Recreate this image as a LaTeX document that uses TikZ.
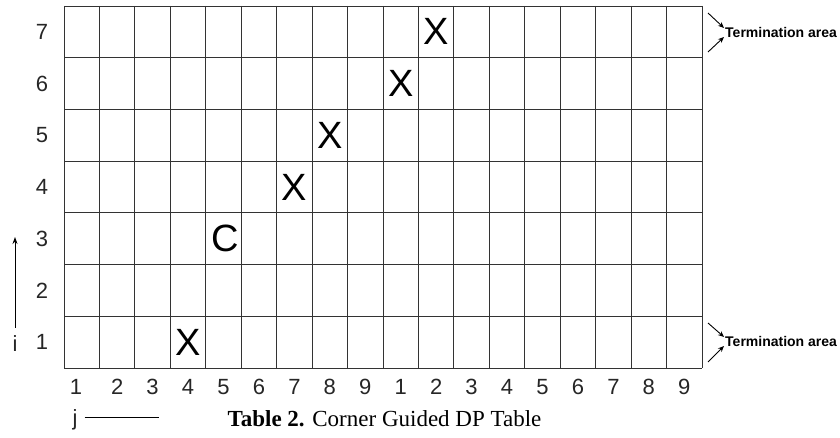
\documentclass[tikz,border=0pt]{standalone}
\usepackage{fontspec}
\setmainfont{Liberation Sans}
\newfontfamily\capfont{Liberation Serif}
\usetikzlibrary{arrows.meta}
\begin{document}
\begin{tikzpicture}[x=1pt,y=-1pt,
  gridline/.style={draw=black!80, line width=0.9pt},
  lab/.style={font=\fontsize{22}{22}\selectfont, inner sep=0pt, text=black!85},
  cellmark/.style={font=\fontsize{38}{38}\selectfont, inner sep=0pt},
  term/.style={font=\bfseries\fontsize{14}{14}\selectfont, inner sep=0pt, anchor=west},
  tarrow/.style={-{Stealth[length=6pt,width=5pt]}, line width=0.9pt}]
\useasboundingbox (0,0) rectangle (840,438);
\fill[white] (0,0) rectangle (840,438);
% grid
\foreach \k in {0,...,18} \draw[gridline] ({64+\k*35.444},6) -- ({64+\k*35.444},368);
\foreach \k in {0,...,7} \draw[gridline] (64,{6+\k*51.714}) -- (702,{6+\k*51.714});
% row labels
\foreach \r in {1,...,7} \node[lab] (rl\r) at (42,{368-(\r-0.5)*51.714}) {\r};
% column labels
\node[lab] (cl1) at (76,387) {1};
\foreach \c [count=\k from 2] in {2,3,4,5,6,7,8,9,1,2,3,4,5,6,7,8,9}
  \node[lab] (cl\k) at ({64+(\k-0.5)*35.444},387) {\c};
% marks
\foreach \c/\r/\t in {11/7/X,10/6/X,8/5/X,7/4/X,4/1/X}
  \node[cellmark] (m\c-\r) at ({64+(\c-0.5)*35.444},{368-(\r-0.5)*51.714}) {\t};
\node[cellmark] (m5-3) at ({64+4.5*35.444+2},{368-2.5*51.714}) {C};
% termination areas
\node[term] (ta1) at (725,32) {Termination area};
\node[term] (ta2) at (725,341) {Termination area};
\coordinate (ta1a) at (708,13);
\coordinate (ta1b) at (708,52);
\coordinate (ta2a) at (708,323);
\coordinate (ta2b) at (708,362);
\draw[tarrow] (ta1a) -- ([shift={(-1,-4)}]ta1.west);
\draw[tarrow] (ta1b) -- ([shift={(-1,5)}]ta1.west);
\draw[tarrow] (ta2a) -- ([shift={(-1,-4)}]ta2.west);
\draw[tarrow] (ta2b) -- ([shift={(-1,5)}]ta2.west);
% i axis
\node[lab] (ilab) at (15,344) {i};
\coordinate (itop) at (15,237);
\draw[-{Stealth[length=7pt,width=5pt]}, line width=0.9pt] ([yshift=8pt]ilab.north) -- (itop);
% j axis
\node[lab] (jlab) at (75,420) {j};
\coordinate (jend) at (159,417);
\draw[line width=0.9pt] ([xshift=7pt,yshift=3pt]jlab.east) -- (jend);
% caption
\node[inner sep=0pt, font=\capfont\fontsize{23}{23}\selectfont] (cap) at (384.5,419) {\textbf{Table 2.} Corner Guided DP Table};
\end{tikzpicture}
\end{document}
